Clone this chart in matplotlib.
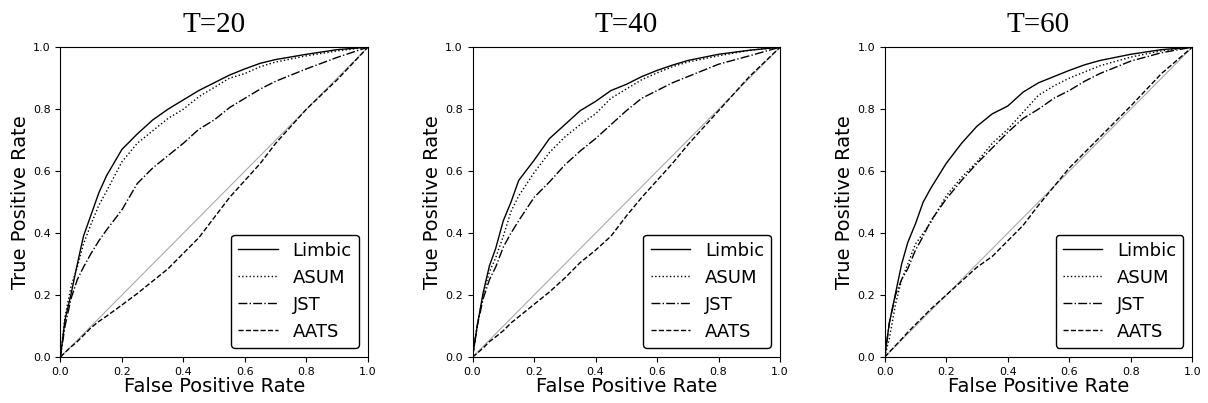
import matplotlib
matplotlib.use("Agg")
import matplotlib.pyplot as plt


titles = ["T=20", "T=40", "T=60"]
methods = ["Limbic", "ASUM", "JST", "AATS"]
styles = ["-", ":", "-.", "--"]

# ROC points (FPR, TPR)
fpr = [0.0, 0.015, 0.035, 0.055, 0.075, 0.1, 0.125, 0.15, 0.2, 0.25, 0.3,
       0.35, 0.4, 0.45, 0.5, 0.55, 0.6, 0.65, 0.7, 0.8, 0.9, 1.0]

tpr_t20 = {
    "Limbic": [0.0, 0.12, 0.205, 0.30, 0.39, 0.46, 0.53, 0.585, 0.67, 0.72, 0.765,
               0.80, 0.83, 0.86, 0.885, 0.91, 0.93, 0.948, 0.96, 0.977, 0.992, 1.0],
    "ASUM":   [0.0, 0.13, 0.23, 0.29, 0.365, 0.43, 0.49, 0.535, 0.63, 0.69, 0.73,
               0.77, 0.80, 0.84, 0.87, 0.90, 0.915, 0.937, 0.952, 0.972, 0.988, 1.0],
    "JST":    [0.0, 0.10, 0.19, 0.25, 0.29, 0.335, 0.375, 0.41, 0.475, 0.56, 0.61,
               0.65, 0.69, 0.735, 0.765, 0.805, 0.835, 0.865, 0.89, 0.93, 0.967, 1.0],
    "AATS":   [0.0, 0.015, 0.033, 0.05, 0.07, 0.095, 0.115, 0.132, 0.168, 0.205, 0.245,
               0.285, 0.335, 0.385, 0.45, 0.515, 0.57, 0.625, 0.69, 0.80, 0.895, 1.0],
}
tpr_t40 = {
    "Limbic": [0.0, 0.10, 0.21, 0.295, 0.35, 0.44, 0.50, 0.57, 0.635, 0.705, 0.75,
               0.795, 0.825, 0.86, 0.88, 0.905, 0.925, 0.942, 0.957, 0.977, 0.99, 1.0],
    "ASUM":   [0.0, 0.10, 0.205, 0.275, 0.32, 0.39, 0.47, 0.52, 0.595, 0.66, 0.71,
               0.75, 0.785, 0.835, 0.865, 0.895, 0.917, 0.937, 0.952, 0.972, 0.99, 1.0],
    "JST":    [0.0, 0.10, 0.19, 0.25, 0.29, 0.355, 0.40, 0.44, 0.515, 0.565, 0.62,
               0.665, 0.705, 0.75, 0.795, 0.835, 0.86, 0.885, 0.905, 0.945, 0.972, 1.0],
    "AATS":   [0.0, 0.012, 0.03, 0.05, 0.065, 0.085, 0.11, 0.13, 0.17, 0.21, 0.255,
               0.305, 0.345, 0.39, 0.455, 0.515, 0.57, 0.625, 0.685, 0.795, 0.905, 1.0],
}
tpr_t60 = {
    "Limbic": [0.0, 0.11, 0.205, 0.30, 0.37, 0.43, 0.50, 0.545, 0.625, 0.69, 0.745,
               0.785, 0.81, 0.855, 0.885, 0.905, 0.925, 0.943, 0.957, 0.977, 0.992, 1.0],
    "ASUM":   [0.0, 0.06, 0.17, 0.25, 0.30, 0.365, 0.40, 0.435, 0.52, 0.58, 0.63,
               0.69, 0.735, 0.79, 0.845, 0.875, 0.90, 0.92, 0.94, 0.968, 0.988, 1.0],
    "JST":    [0.0, 0.11, 0.20, 0.25, 0.285, 0.345, 0.39, 0.44, 0.51, 0.57, 0.625,
               0.675, 0.725, 0.77, 0.80, 0.835, 0.86, 0.89, 0.915, 0.955, 0.982, 1.0],
    "AATS":   [0.0, 0.016, 0.037, 0.058, 0.08, 0.105, 0.13, 0.155, 0.2, 0.245, 0.29,
               0.325, 0.375, 0.425, 0.49, 0.55, 0.61, 0.66, 0.71, 0.81, 0.915, 1.0],
}
panels = [tpr_t20, tpr_t40, tpr_t60]


fig, axes = plt.subplots(1, 3, figsize=(12.08, 4.03), dpi=100)
fig.subplots_adjust(left=0.05, right=0.987, top=0.883, bottom=0.114, wspace=0.34)

for ax, title, tpr in zip(axes, titles, panels):
    # chance line
    ax.plot([0, 1], [0, 1], color="#aaaaaa", lw=0.8)
    for m, ls in zip(methods, styles):
        ax.plot(fpr, tpr[m], color="black", ls=ls, lw=1.0, label=m)

    ax.set_xlim(0, 1)
    ax.set_ylim(0, 1)
    ax.tick_params(labelsize=8)
    ax.set_xlabel("False Positive Rate", fontsize=14, labelpad=0)
    ax.set_ylabel("True Positive Rate", fontsize=14, labelpad=2)
    ax.set_title(title, fontsize=21, family="Liberation Serif", pad=11)

    leg = ax.legend(loc="lower right", fontsize=13, handlelength=2.2,
                    fancybox=True, framealpha=1)
    leg.get_frame().set_edgecolor("black")

fig.savefig("out.png", dpi=100)
